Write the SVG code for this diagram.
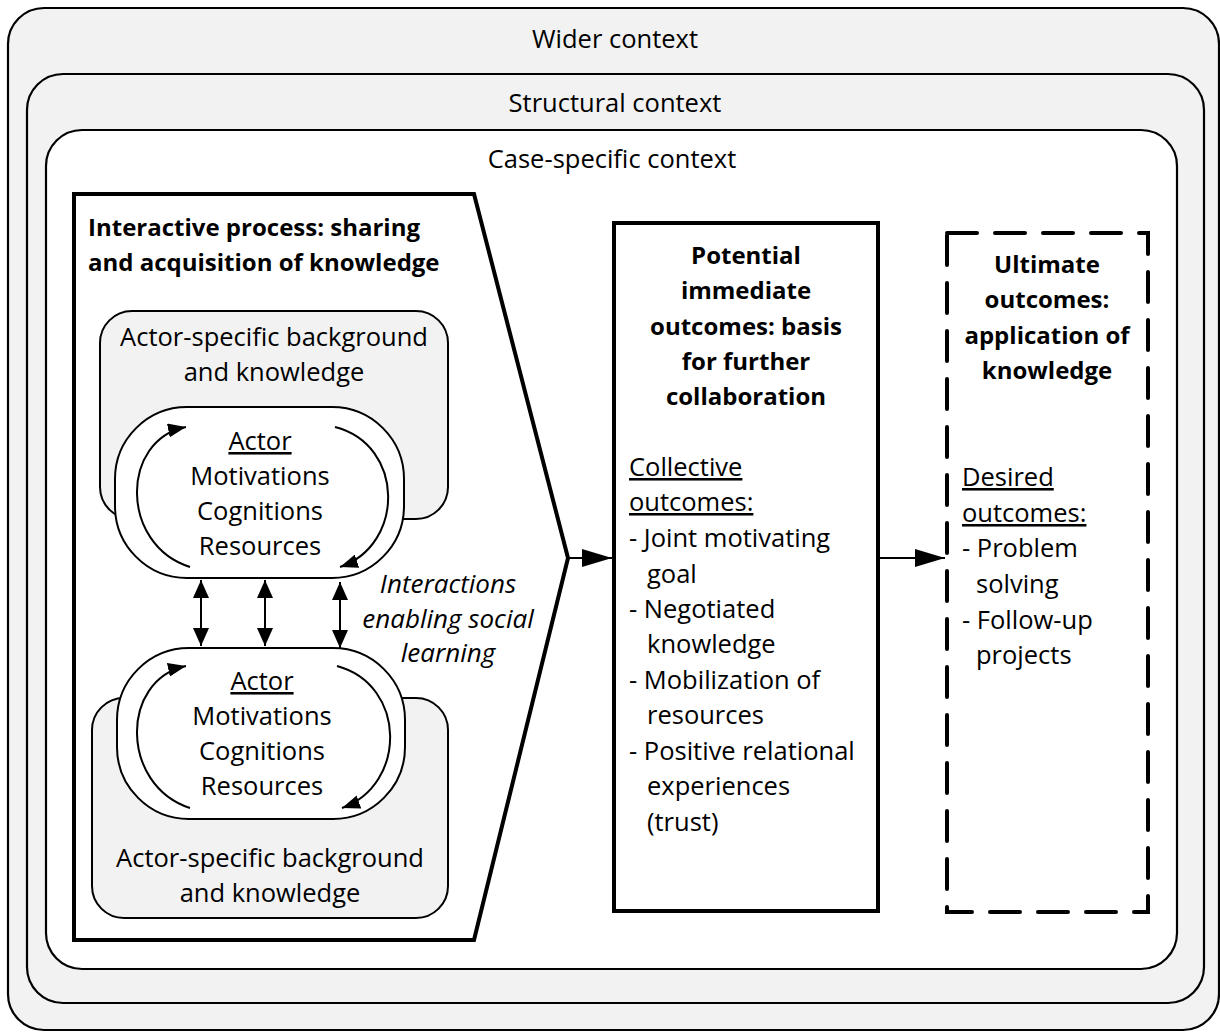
<svg xmlns="http://www.w3.org/2000/svg" width="1220" height="1032" viewBox="0 0 1220 1032">
<style>
text{font-family:"Open Sans","Noto Sans","Liberation Sans",sans-serif;font-size:25.5px;fill:#000}
.c{text-anchor:middle}
.b{font-weight:bold;font-size:24px}
.i{font-style:italic;font-size:26px}
.u{text-decoration:underline}
.ctx{stroke:#000;stroke-width:2.2}
.thick{fill:#fff;stroke:#000;stroke-width:4}
.bg{fill:#f2f2f2;stroke:#000;stroke-width:2}
.actor{fill:#fff;stroke:#000;stroke-width:2}
.arc{fill:none;stroke:#000;stroke-width:2}
.con{fill:none;stroke:#000;stroke-width:2}
</style>
<defs>
<marker id="ah" viewBox="0 0 10 10" refX="10" refY="5" markerWidth="18" markerHeight="14" preserveAspectRatio="none" markerUnits="userSpaceOnUse" orient="auto"><path d="M0,0 L10,5 L0,10 z" fill="#000"/></marker>
<marker id="big" viewBox="0 0 10 10" refX="10" refY="5" markerWidth="30" markerHeight="18" preserveAspectRatio="none" markerUnits="userSpaceOnUse" orient="auto"><path d="M0,0 L10,5 L0,10 z" fill="#000"/></marker>
<marker id="dbl" viewBox="0 0 10 10" refX="10" refY="5" markerWidth="18" markerHeight="16" preserveAspectRatio="none" markerUnits="userSpaceOnUse" orient="auto-start-reverse"><path d="M0,0 L10,5 L0,10 z" fill="#000"/></marker>
</defs>

<g id="wider-context">
<rect x="8" y="8" width="1211" height="1022" rx="36" fill="#f2f2f2" class="ctx"/>
<text x="615" y="48" class="c">Wider context</text>
</g>
<g id="structural-context">
<rect x="27" y="74" width="1177" height="929" rx="36" fill="#f2f2f2" class="ctx"/>
<text x="615" y="112" class="c">Structural context</text>
</g>
<g id="case-context">
<rect x="46" y="130" width="1131" height="839" rx="36" fill="#fff" class="ctx"/>
<text x="612" y="168" class="c">Case-specific context</text>
</g>

<g id="interactive-process">
<path d="M74,194 L474,194 L568,558 L474,940 L74,940 Z" class="thick" stroke-linejoin="miter"/>
<text x="88" y="236" class="b">Interactive process: sharing</text>
<text x="88" y="271" class="b">and acquisition of knowledge</text>
</g>

<g id="background-top">
<rect x="100" y="311" width="348" height="208" rx="32" class="bg"/>
<text x="274" y="346" class="c">Actor-specific background</text>
<text x="274" y="381" class="c">and knowledge</text>
</g>
<g id="actor-top">
<rect x="115" y="407" width="289" height="171" rx="72" class="actor"/>
<path d="M190,567 C120,545 120,440 186,427" class="arc" marker-end="url(#ah)"/>
<path d="M335,427 C405,445 405,545 340,567" class="arc" marker-end="url(#ah)"/>
<text x="260" y="450" class="c u">Actor</text>
<text x="260" y="485" class="c">Motivations</text>
<text x="260" y="520" class="c">Cognitions</text>
<text x="260" y="555" class="c">Resources</text>
</g>

<g id="background-bottom">
<rect x="92" y="698" width="356" height="220" rx="32" class="bg"/>
<text x="270" y="867" class="c">Actor-specific background</text>
<text x="270" y="902" class="c">and knowledge</text>
</g>
<g id="actor-bottom">
<rect x="117" y="648" width="288" height="171" rx="72" class="actor"/>
<path d="M190,808 C120,785 120,680 186,666" class="arc" marker-end="url(#ah)"/>
<path d="M337,666 C407,685 407,785 342,808" class="arc" marker-end="url(#ah)"/>
<text x="262" y="690" class="c u">Actor</text>
<text x="262" y="725" class="c">Motivations</text>
<text x="262" y="760" class="c">Cognitions</text>
<text x="262" y="795" class="c">Resources</text>
</g>

<g id="interactions-label">
<text x="448" y="593" class="c i">Interactions</text>
<text x="448" y="628" class="c i">enabling social</text>
<text x="448" y="662" class="c i">learning</text>
</g>

<g id="immediate-outcomes">
<rect x="614" y="223" width="264" height="688" class="thick"/>
<text x="746" y="264" class="c b">Potential</text>
<text x="746" y="299" class="c b">immediate</text>
<text x="746" y="335" class="c b">outcomes: basis</text>
<text x="746" y="370" class="c b">for further</text>
<text x="746" y="405" class="c b">collaboration</text>
<text x="629" y="476" class="u">Collective</text>
<text x="629" y="511" class="u">outcomes:</text>
<text x="629" y="547">- Joint motivating</text>
<text x="647" y="583">goal</text>
<text x="629" y="618">- Negotiated</text>
<text x="647" y="653">knowledge</text>
<text x="629" y="689">- Mobilization of</text>
<text x="647" y="724">resources</text>
<text x="629" y="760">- Positive relational</text>
<text x="647" y="795">experiences</text>
<text x="647" y="831">(trust)</text>
</g>

<g id="ultimate-outcomes">
<rect x="947" y="233" width="201" height="679" fill="#fff" stroke="#000" stroke-width="4" stroke-dasharray="30 18" stroke-linecap="round"/>
<text x="1047" y="273" class="c b">Ultimate</text>
<text x="1047" y="308" class="c b">outcomes:</text>
<text x="1047" y="344" class="c b">application of</text>
<text x="1047" y="379" class="c b">knowledge</text>
<text x="962" y="486" class="u">Desired</text>
<text x="962" y="522" class="u">outcomes:</text>
<text x="962" y="557">- Problem</text>
<text x="976" y="593">solving</text>
<text x="962" y="629">- Follow-up</text>
<text x="976" y="664">projects</text>
</g>

<g id="connectors">
<line x1="568" y1="558" x2="612" y2="558" class="con" marker-end="url(#big)"/>
<line x1="880" y1="558" x2="945" y2="558" class="con" marker-end="url(#big)"/>
<line x1="201" y1="580" x2="201" y2="646" class="con" marker-start="url(#dbl)" marker-end="url(#dbl)"/>
<line x1="265" y1="580" x2="265" y2="646" class="con" marker-start="url(#dbl)" marker-end="url(#dbl)"/>
<line x1="340" y1="582" x2="340" y2="648" class="con" marker-start="url(#dbl)" marker-end="url(#dbl)"/>
</g>
</svg>
